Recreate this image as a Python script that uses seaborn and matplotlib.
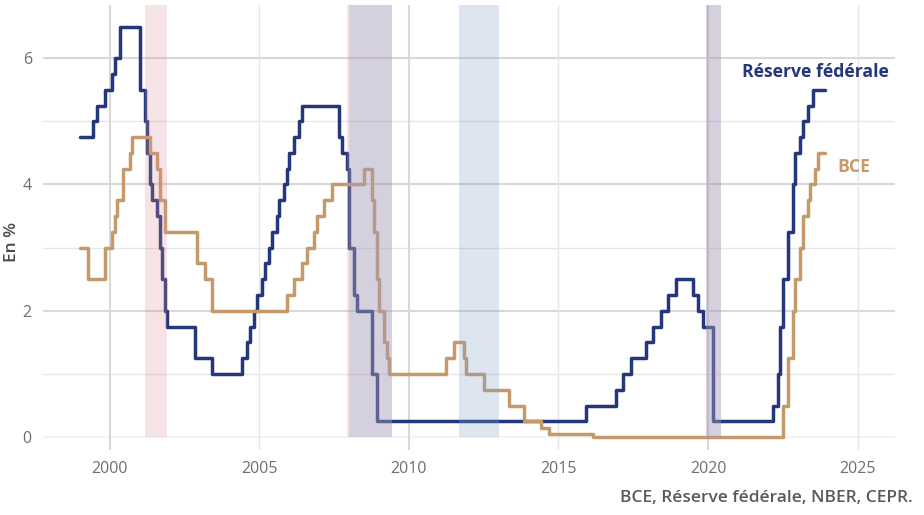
import matplotlib
matplotlib.use("Agg")
import matplotlib.pyplot as plt
import seaborn as sns
import pandas as pd

# Taux directeurs (fin de mois), dates en années décimales
fed_dates = [1999.0, 1999.42, 1999.58, 1999.83, 2000.08, 2000.17, 2000.33,
             2001.0, 2001.17, 2001.25, 2001.33, 2001.42, 2001.58, 2001.67, 2001.75, 2001.83, 2001.92,
             2002.83, 2003.42, 2004.42, 2004.58, 2004.67, 2004.83, 2004.92,
             2005.08, 2005.17, 2005.33, 2005.42, 2005.58, 2005.67, 2005.83, 2005.92,
             2006.0, 2006.17, 2006.33, 2006.42, 2007.67, 2007.75, 2007.92,
             2008.0, 2008.17, 2008.25, 2008.75, 2008.92,
             2015.92, 2016.92, 2017.17, 2017.42, 2017.92, 2018.17, 2018.42, 2018.67, 2018.92,
             2019.5, 2019.67, 2019.83, 2020.17,
             2022.17, 2022.33, 2022.42, 2022.5, 2022.67, 2022.83, 2022.92,
             2023.08, 2023.17, 2023.33, 2023.5, 2023.9]
fed_rates = [4.75, 5.0, 5.25, 5.5, 5.75, 6.0, 6.5,
             5.5, 5.0, 4.5, 4.0, 3.75, 3.5, 3.0, 2.5, 2.0, 1.75,
             1.25, 1.0, 1.25, 1.5, 1.75, 2.0, 2.25,
             2.5, 2.75, 3.0, 3.25, 3.5, 3.75, 4.0, 4.25,
             4.5, 4.75, 5.0, 5.25, 4.75, 4.5, 4.25,
             3.0, 2.25, 2.0, 1.0, 0.25,
             0.5, 0.75, 1.0, 1.25, 1.5, 1.75, 2.0, 2.25, 2.5,
             2.25, 2.0, 1.75, 0.25,
             0.5, 1.0, 1.75, 2.5, 3.25, 4.0, 4.5,
             4.75, 5.0, 5.25, 5.5, 5.5]

bce_dates = [1999.0, 1999.25, 1999.83, 2000.08, 2000.17, 2000.25, 2000.42, 2000.67, 2000.75,
             2001.33, 2001.58, 2001.67, 2001.83, 2002.92, 2003.17, 2003.42,
             2005.92, 2006.17, 2006.42, 2006.58, 2006.83, 2006.92, 2007.17, 2007.42,
             2008.5, 2008.75, 2008.83, 2008.92, 2009.0, 2009.17, 2009.25, 2009.33,
             2011.25, 2011.5, 2011.83, 2011.92, 2012.5, 2013.33, 2013.83, 2014.42, 2014.67, 2016.17,
             2022.5, 2022.67, 2022.83, 2022.92, 2023.08, 2023.17, 2023.33, 2023.42, 2023.58, 2023.67, 2023.9]
bce_rates = [3.0, 2.5, 3.0, 3.25, 3.5, 3.75, 4.25, 4.5, 4.75,
             4.5, 4.25, 3.75, 3.25, 2.75, 2.5, 2.0,
             2.25, 2.5, 2.75, 3.0, 3.25, 3.5, 3.75, 4.0,
             4.25, 3.75, 3.25, 2.5, 2.0, 1.5, 1.25, 1.0,
             1.25, 1.5, 1.25, 1.0, 0.75, 0.5, 0.25, 0.15, 0.05, 0.0,
             0.5, 1.25, 2.0, 2.5, 3.0, 3.5, 3.75, 4.0, 4.25, 4.5, 4.5]

# Récessions : NBER (États-Unis) et CEPR (zone euro)
us_rec_start = [2001.17, 2007.92, 2019.92]
us_rec_end = [2001.92, 2009.42, 2020.42]
ea_rec_start = [2008.0, 2011.67, 2019.92]
ea_rec_end = [2009.42, 2013.0, 2020.42]

FED_COL = "#24377b"
BCE_COL = "#c59a6a"

sns.set_theme(style="white")
plt.rcParams['font.family'] = ['Open Sans', 'DejaVu Sans']

fig = plt.figure(figsize=(9.24, 5.15), dpi=100)
ax = fig.add_axes([0.0465, 0.126, 0.922, 0.864])

YMIN, YMAX = -0.206, 6.84
ax.set_xlim(1997.76, 2026.25)
ax.set_ylim(YMIN, YMAX)

# grille
for y in [2, 4, 6]:
    ax.axhline(y, color="#d8d8d8", lw=1.5, zorder=0)
for y in [1, 3, 5]:
    ax.axhline(y, color="#e6e6e6", lw=1.0, zorder=0)
ax.axhline(0, color="#f3f3f3", lw=1.5, zorder=0)
for x in [2000, 2010, 2020]:
    ax.axvline(x, color="#d8d8d8", lw=1.5, zorder=0)
for x in [2005, 2015, 2025]:
    ax.axvline(x, color="#e6e6e6", lw=1.0, zorder=0)

fed = pd.DataFrame({"date": fed_dates, "taux": fed_rates})
bce = pd.DataFrame({"date": bce_dates, "taux": bce_rates})
sns.lineplot(data=fed, x="date", y="taux", color=FED_COL, lw=2.5,
             drawstyle="steps-post", ax=ax, zorder=2)
sns.lineplot(data=bce, x="date", y="taux", color=BCE_COL, lw=2.5,
             drawstyle="steps-post", ax=ax, zorder=2)

# bandes de récession (par-dessus les courbes)
y0 = (0 - YMIN) / (YMAX - YMIN)
for s, e in zip(us_rec_start, us_rec_end):
    ax.axvspan(s, e, ymin=y0, ymax=1, color="#da909b", alpha=0.25, lw=0, zorder=3)
for s, e in zip(ea_rec_start, ea_rec_end):
    ax.axvspan(s, e, ymin=y0, ymax=1, color="#829fcc", alpha=0.27, lw=0, zorder=3)

ax.text(2023.58, 5.78, "Réserve fédérale", color=FED_COL, fontsize=12.7,
        fontweight="bold", ha="center", va="center")
ax.text(2024.88, 4.27, "BCE", color=BCE_COL, fontsize=12.7,
        fontweight="bold", ha="center", va="center")

ax.set_xticks([2000, 2005, 2010, 2015, 2020, 2025])
ax.set_yticks([0, 2, 4, 6])
ax.tick_params(axis="both", labelsize=11.5, labelcolor="#6e6e6e", length=0, pad=8)
ax.set_xlabel("")
ax.set_ylabel("En %", fontsize=12.5, color="#4a4a4a", fontweight="semibold", va="center")
ax.yaxis.set_label_coords(-0.0364, 0.467)
for sp in ax.spines.values():
    sp.set_visible(False)

fig.text(0.988, 0.033, "BCE, Réserve fédérale, NBER, CEPR.", ha="right", va="center",
         fontsize=12.5, color="#5a5a5a", fontweight="semibold")

fig.savefig("out.png", dpi=100)
